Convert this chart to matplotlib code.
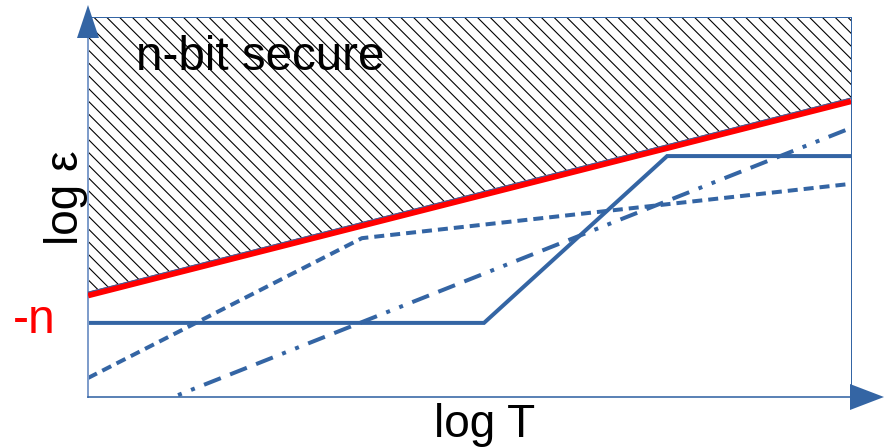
import matplotlib
matplotlib.use("Agg")
import matplotlib.pyplot as plt
from matplotlib.patches import Polygon
from matplotlib.transforms import offset_copy

# ---- data (schematic, axis units 0..100) ----
red_x = [0, 100]
red_y = [26.8, 77.9]
solid_x = [0, 51.9, 75.9, 100]
solid_y = [19.5, 19.5, 63.4, 63.4]
dotted_x = [0, 35.9, 100]
dotted_y = [5.0, 41.8, 56.1]
dashdot_x = [11.8, 100]
dashdot_y = [0.5, 70.8]

region_label = "n-bit secure"
x_label = "log T"
y_label = "log ε"
level_label = "-n"

W, H = 885, 447
DPI = 115


def pt(px):
    return px * 72.0 / DPI


plt.rcParams['font.family'] = ['Liberation Sans', 'DejaVu Sans']
plt.rcParams['lines.scale_dashes'] = False
plt.rcParams['hatch.linewidth'] = pt(1.1)
plt.rcParams['hatch.color'] = 'black'

BLUE = '#3465a4'

fig = plt.figure(figsize=(W / DPI, H / DPI), dpi=DPI)
ax = fig.add_axes([88 / W, (H - 397) / H, 763 / W, 380 / H])
ax.set_xlim(0, 100)
ax.set_ylim(0, 100)
ax.set_xticks([])
ax.set_yticks([])
for s in ['top', 'right']:
    ax.spines[s].set_color(BLUE)
    ax.spines[s].set_linewidth(pt(1.0))
ax.spines['bottom'].set_color(BLUE)
ax.spines['bottom'].set_linewidth(pt(1.6))
ax.spines['left'].set_color('#7f9dcb')
ax.spines['left'].set_linewidth(pt(2.0))

# hatched secure region (edge sits on top of red line)
up = offset_copy(ax.transData, fig=fig, x=0, y=3.0, units='dots')
ax.fill_between(red_x, red_y, [100, 100], transform=up, facecolor='white',
                edgecolor='none', hatch='\\\\\\', zorder=1)
ax.plot(red_x, red_y, color='#ff0000', lw=pt(6.5), solid_capstyle='butt', zorder=3)
ax.plot(red_x, red_y, color=BLUE, lw=pt(1.0), transform=up, zorder=4)

# curves
ax.plot(solid_x, solid_y, color=BLUE, lw=pt(4), solid_joinstyle='miter',
        solid_capstyle='butt', zorder=2)
l2, = ax.plot(dotted_x, dotted_y, color=BLUE, lw=pt(4), dash_capstyle='butt', zorder=2)
l2.set_dashes([pt(10), pt(6)])
l3, = ax.plot(dashdot_x, dashdot_y, color=BLUE, lw=pt(4), dash_capstyle='butt', zorder=2)
l3.set_dashes([pt(4), pt(10), pt(4), pt(10), pt(18), pt(10), pt(18), pt(10), pt(18), pt(10)])

# axis arrows (figure pixel coordinates)
def fpx(x, y):
    return (x / W, 1 - y / H)

fig.add_artist(Polygon([fpx(88, 5), fpx(77, 38), fpx(99, 38)], closed=True,
                       facecolor=BLUE, edgecolor='none', transform=fig.transFigure))
fig.add_artist(Polygon([fpx(884, 397), fpx(850, 384), fpx(850, 410)], closed=True,
                       facecolor=BLUE, edgecolor='none', transform=fig.transFigure))

# texts
fig.text(*fpx(136, 70), region_label, fontsize=pt(47.5), ha='left', va='baseline', color='black')
fig.text(*fpx(485, 437), x_label, fontsize=pt(46), ha='center', va='baseline', color='black')
fig.text(*fpx(78, 198), y_label, fontsize=pt(46), ha='center', va='baseline',
         rotation=90, rotation_mode='anchor', color='black')
fig.text(*fpx(13, 333), level_label, fontsize=pt(48), ha='left', va='baseline', color='#ff0000')

fig.savefig('out.png', dpi=DPI)
